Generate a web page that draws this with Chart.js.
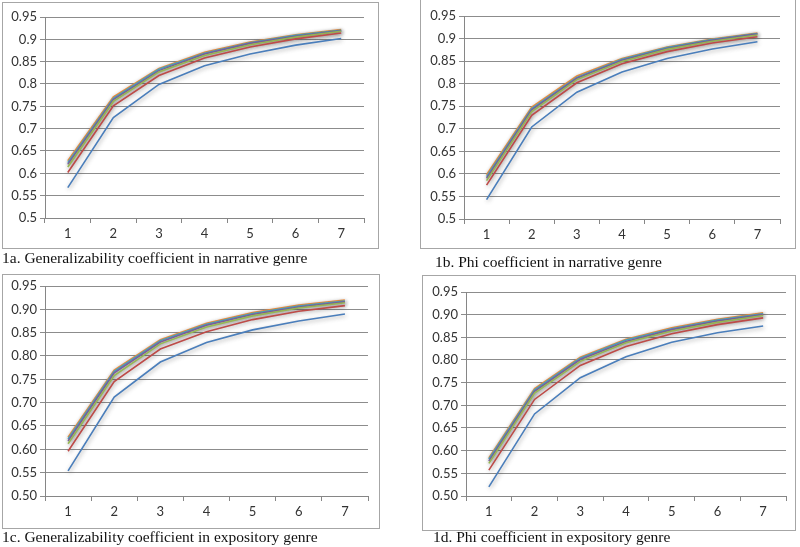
<!DOCTYPE html>
<html>
<head>
<meta charset="utf-8">
<script src="https://cdn.jsdelivr.net/npm/chart.js@4"></script>
<style>
  body { margin: 0; background: #fff; width: 800px; height: 547px; position: relative; overflow: hidden; }
  .box { position: absolute; border: 1px solid #a6a6a6; box-sizing: border-box; }
  .box canvas { position: absolute; left: 0; top: 0; }
  .cap { position: absolute; font-family: "Liberation Serif", "Times New Roman", serif; font-size: 15.5px; color: #111; white-space: nowrap; }
</style>
</head>
<body>
<div class="box" id="boxA" style="left:2px;top:2px;width:377px;height:247px"><canvas id="chartA"></canvas></div>
<div class="box" id="boxB" style="left:420px;top:-1px;width:376px;height:250px"><canvas id="chartB"></canvas></div>
<div class="box" id="boxC" style="left:2px;top:274px;width:378px;height:255px"><canvas id="chartC"></canvas></div>
<div class="box" id="boxD" style="left:422px;top:275px;width:374px;height:256px"><canvas id="chartD"></canvas></div>
<div class="cap" style="left:2px;top:249px">1a. Generalizability coefficient in narrative genre</div>
<div class="cap" style="left:435px;top:253px">1b. Phi coefficient in narrative genre</div>
<div class="cap" style="left:2px;top:528px">1c. Generalizability coefficient in expository genre</div>
<div class="cap" style="left:433px;top:528px">1d. Phi coefficient in expository genre</div>

<script>
// Categorias (eixo X)
const categorias = ['1', '2', '3', '4', '5', '6', '7'];

// Rótulos do eixo Y
const ticksSemZero = ['0.5', '0.55', '0.6', '0.65', '0.7', '0.75', '0.8', '0.85', '0.9', '0.95'];
const ticksComZero = ['0.50', '0.55', '0.60', '0.65', '0.70', '0.75', '0.80', '0.85', '0.90', '0.95'];

// 1a. Generalizability coefficient - narrative
const a1 = [0.568, 0.725, 0.799, 0.841, 0.867, 0.887, 0.902];
const a2 = [0.602, 0.751, 0.819, 0.858, 0.883, 0.901, 0.914];
const a3 = [0.614, 0.761, 0.827, 0.864, 0.888, 0.905, 0.918];
const a4 = [0.620, 0.765, 0.830, 0.867, 0.891, 0.907, 0.919];
const a5 = [0.624, 0.768, 0.833, 0.869, 0.892, 0.909, 0.920];
const a6 = [0.628, 0.771, 0.835, 0.871, 0.894, 0.910, 0.922];

// 1b. Phi coefficient - narrative
const b1 = [0.543, 0.704, 0.781, 0.826, 0.856, 0.877, 0.893];
const b2 = [0.575, 0.730, 0.802, 0.844, 0.871, 0.890, 0.904];
const b3 = [0.585, 0.738, 0.809, 0.849, 0.876, 0.894, 0.908];
const b4 = [0.590, 0.742, 0.812, 0.852, 0.878, 0.896, 0.910];
const b5 = [0.594, 0.745, 0.814, 0.854, 0.880, 0.898, 0.911];
const b6 = [0.598, 0.748, 0.817, 0.856, 0.881, 0.899, 0.912];

// 1c. Generalizability coefficient - expository
const c1 = [0.554, 0.712, 0.787, 0.829, 0.856, 0.875, 0.890];
const c2 = [0.596, 0.745, 0.815, 0.852, 0.878, 0.896, 0.908];
const c3 = [0.612, 0.758, 0.826, 0.862, 0.886, 0.903, 0.914];
const c4 = [0.618, 0.764, 0.830, 0.866, 0.889, 0.905, 0.916];
const c5 = [0.622, 0.767, 0.833, 0.868, 0.891, 0.907, 0.918];
const c6 = [0.626, 0.770, 0.835, 0.870, 0.893, 0.909, 0.920];

// 1d. Phi coefficient - expository
const d1 = [0.520, 0.681, 0.761, 0.807, 0.839, 0.860, 0.875];
const d2 = [0.557, 0.713, 0.788, 0.830, 0.858, 0.878, 0.893];
const d3 = [0.572, 0.727, 0.797, 0.838, 0.864, 0.883, 0.898];
const d4 = [0.577, 0.731, 0.801, 0.841, 0.867, 0.886, 0.900];
const d5 = [0.581, 0.734, 0.804, 0.844, 0.869, 0.888, 0.902];
const d6 = [0.584, 0.737, 0.806, 0.846, 0.871, 0.890, 0.904];

// Cores padrão do Excel
const cores = ['#4A7EBB', '#BE4B48', '#98B954', '#7D60A0', '#46AAC5', '#F69240'];

// sombra suave nas linhas (como no Excel 2007)
const sombra = {
    id: 'sombra',
    beforeDatasetDraw(chart) {
        const c = chart.ctx;
        c.save();
        c.shadowColor = 'rgba(60,60,60,0.45)';
        c.shadowBlur = 4;
        c.shadowOffsetX = 1;
        c.shadowOffsetY = 1.5;
    },
    afterDatasetDraw(chart) {
        chart.ctx.restore();
    }
};

// caixa = div, area = retângulo do gráfico em coordenadas da página
function desenhar(id, boxId, series, rotulos, area) {
    const box = document.getElementById(boxId);
    const bx = box.offsetLeft, by = box.offsetTop;
    const w = box.offsetWidth, h = box.offsetHeight;
    const canvas = document.getElementById(id);
    canvas.width = w; canvas.height = h;
    canvas.style.width = w + 'px'; canvas.style.height = h + 'px';

    const esquerda = area.left - bx;
    const topo = area.top - by;
    const direita = bx + w - area.right;
    const baixo = by + h - area.bottom;

    new Chart(canvas.getContext('2d'), {
        type: 'line',
        data: {
            labels: categorias,
            datasets: series.map((s, i) => ({
                data: s,
                borderColor: cores[i],
                borderWidth: 1.6,
                pointRadius: 0,
                tension: 0,
                fill: false
            }))
        },
        plugins: [sombra],
        options: {
            responsive: false,
            animation: false,
            events: [],
            layout: { padding: { top: topo, right: direita, left: 0, bottom: 0 } },
            plugins: { legend: { display: false }, tooltip: { enabled: false } },
            scales: {
                x: {
                    offset: true,
                    afterFit: s => { s.height = baixo; },
                    grid: { offset: true, drawOnChartArea: false, tickLength: 5, color: '#868686' },
                    border: { color: '#868686' },
                    ticks: { color: '#333', font: { family: 'Lato', size: 13 }, padding: 3 }
                },
                y: {
                    min: 0.5,
                    max: 0.95,
                    afterFit: s => { s.width = esquerda; },
                    afterBuildTicks: s => { s.ticks = rotulos.map(r => ({ value: parseFloat(r) })); },
                    grid: { color: '#8c8c8c', tickLength: 5 },
                    border: { color: '#868686' },
                    ticks: {
                        color: '#333',
                        font: { family: 'Lato', size: 13 },
                        padding: 3,
                        callback: (v, i) => rotulos[i]
                    }
                }
            }
        }
    });
}

desenhar('chartA', 'boxA', [a1, a2, a3, a4, a5, a6], ticksSemZero, { left: 44, top: 16, right: 363, bottom: 217 });
desenhar('chartB', 'boxB', [b1, b2, b3, b4, b5, b6], ticksSemZero, { left: 463, top: 15, right: 779, bottom: 218 });
desenhar('chartC', 'boxC', [c1, c2, c3, c4, c5, c6], ticksComZero, { left: 44, top: 285, right: 367, bottom: 495 });
desenhar('chartD', 'boxD', [d1, d2, d3, d4, d5, d6], ticksComZero, { left: 465, top: 291, right: 785, bottom: 495 });
</script>
</body>
</html>
